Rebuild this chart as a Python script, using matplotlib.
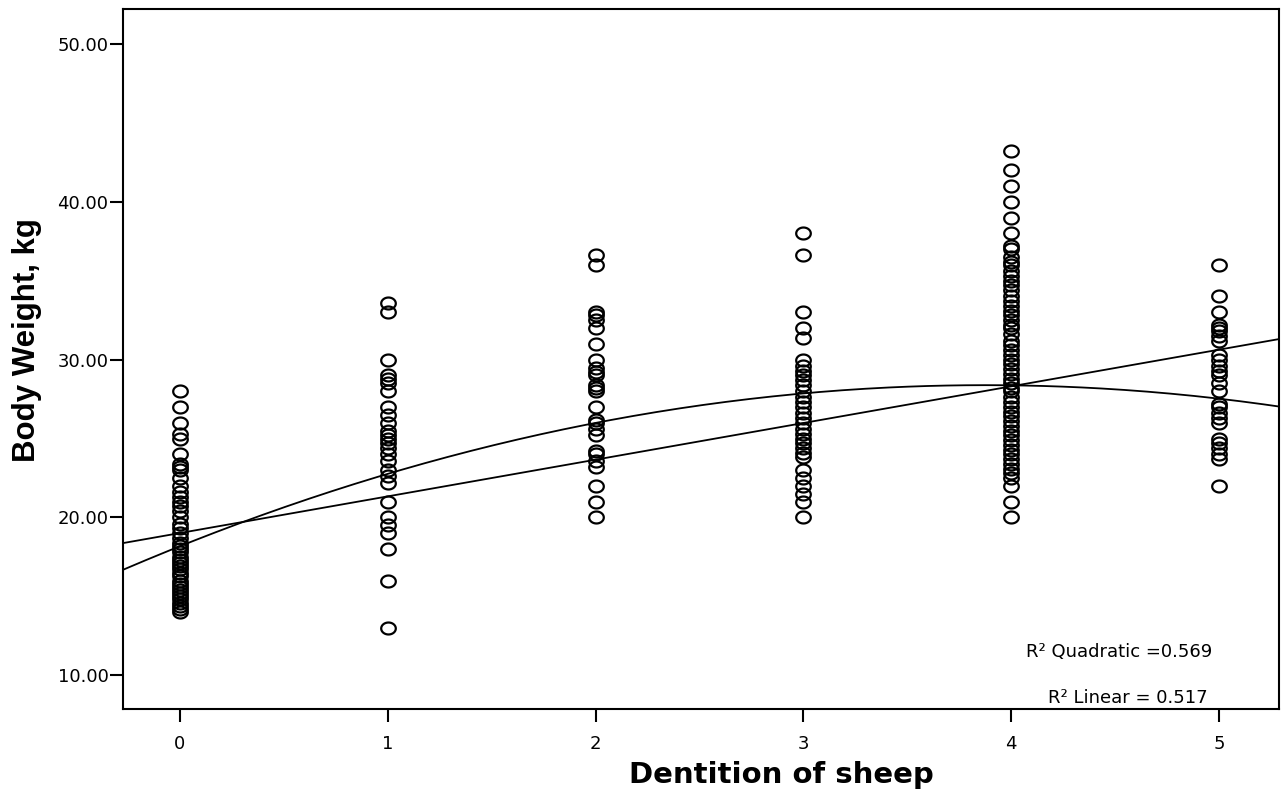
import numpy as np
import matplotlib
matplotlib.use("Agg")
import matplotlib.pyplot as plt
from matplotlib.path import Path

plt.rcParams['font.family'] = ['DejaVu Sans']

# Data
dentition = [0, 1, 2, 3, 4, 5]
weights_0 = [28.0, 27.0, 26.0, 25.3, 25.0, 24.0, 23.4, 23.2, 23.0, 22.5, 22.0, 21.6, 21.3, 21.0,
             20.7, 20.4, 20.0, 19.6, 19.3, 19.0, 18.7, 18.4, 18.2, 18.0, 17.8, 17.5, 17.3, 17.1,
             16.9, 16.7, 16.5, 16.3, 16.0, 15.8, 15.6, 15.4, 15.2, 15.0, 14.8, 14.6, 14.4, 14.2, 14.0]
weights_1 = [33.6, 33.0, 30.0, 29.0, 28.8, 28.5, 28.0, 27.0, 26.5, 26.0, 25.5, 25.2, 25.0, 24.7,
             24.4, 24.0, 23.6, 23.0, 22.6, 22.2, 21.0, 20.0, 19.5, 19.0, 18.0, 16.0, 13.0]
weights_2 = [36.6, 36.0, 33.0, 32.8, 32.5, 32.0, 31.0, 30.0, 29.5, 29.2, 29.0, 28.4, 28.2, 28.0,
             27.0, 26.2, 26.0, 25.6, 25.2, 24.2, 24.0, 23.6, 23.2, 22.0, 21.0, 20.0]
weights_3 = [38.0, 36.6, 33.0, 32.0, 31.4, 30.0, 29.6, 29.3, 29.0, 28.7, 28.4, 28.0, 27.6, 27.3,
             27.0, 26.6, 26.3, 26.0, 25.6, 25.3, 25.0, 24.7, 24.4, 24.1, 23.8, 23.0, 22.5, 22.0,
             21.5, 21.0, 20.0]
weights_4 = [43.2, 42.0, 41.0, 40.0, 39.0, 38.0, 37.2, 37.0, 36.5, 36.2, 36.0, 35.6, 35.3, 35.0,
             34.7, 34.4, 34.0, 33.7, 33.4, 33.1, 32.8, 32.5, 32.2, 32.0, 31.6, 31.2, 30.9, 30.6,
             30.3, 30.0, 29.7, 29.4, 29.1, 28.8, 28.5, 28.2, 28.0, 27.6, 27.3, 27.0, 26.7, 26.4,
             26.1, 25.8, 25.5, 25.2, 24.9, 24.6, 24.3, 24.0, 23.7, 23.4, 23.1, 22.8, 22.5, 22.0,
             21.0, 20.0]
weights_5 = [36.0, 34.0, 33.0, 32.2, 32.0, 31.8, 31.5, 31.2, 30.3, 30.0, 29.6, 29.3, 29.0, 28.5,
             28.0, 27.2, 27.0, 26.6, 26.3, 26.0, 25.0, 24.7, 24.4, 24.0, 23.7, 22.0]
all_weights = [weights_0, weights_1, weights_2, weights_3, weights_4, weights_5]

# Fit coefficients
linear_coef = [19.01, 2.324]              # intercept, slope
quad_coef = [18.175, 5.265, -0.679]       # c, b, a
r2_quadratic = "0.569"
r2_linear = "0.517"

yticks = [10, 20, 30, 40, 50]

W, H = 1281, 791
fig = plt.figure(figsize=(W / 100, H / 100), dpi=100)
ax = fig.add_axes([123 / W, 1 - 709 / H, (1279 - 123) / W, (709 - 8.5) / H])

# slightly flattened open-circle marker
t = np.linspace(0, 2 * np.pi, 60)
ell = Path(np.column_stack([np.cos(t), 0.82 * np.sin(t)]), closed=True)

for d, ws in zip(dentition, all_weights):
    ax.plot([d] * len(ws), ws, linestyle='none', marker=ell, markersize=10.5,
            markerfacecolor='none', markeredgecolor='black', markeredgewidth=1.6)

xlim = (-0.274, 5.289)
xs = np.linspace(xlim[0], xlim[1], 300)
ax.plot(xs, linear_coef[0] + linear_coef[1] * xs, color='black', lw=1.3)
ax.plot(xs, quad_coef[0] + quad_coef[1] * xs + quad_coef[2] * xs ** 2, color='black', lw=1.3)

ax.set_xlim(*xlim)
ax.set_ylim(7.86, 52.25)
ax.set_xticks(dentition)
ax.set_xticklabels([str(d) for d in dentition])
ax.set_yticks(yticks)
ax.set_yticklabels([f"{v:.2f}" for v in yticks])
ax.tick_params(axis='both', direction='out', length=9.5, width=1.5, labelsize=13, colors='black')
ax.tick_params(axis='y', pad=1)
ax.tick_params(axis='x', pad=9)
for s in ax.spines.values():
    s.set_linewidth(1.5)

fig.text(1212 / W, 1 - 652 / H, "R² Quadratic =" + r2_quadratic, ha='right', va='center',
         fontsize=13)
fig.text(1208 / W, 1 - 698 / H, "R² Linear = " + r2_linear, ha='right', va='center',
         fontsize=13)

fig.text(781 / W, 1 - 775 / H, "Dentition of sheep", ha='center', va='center',
         fontsize=21, fontweight='bold')
fig.text(27 / W, 1 - 340 / H, "Body Weight, kg", ha='center', va='center', rotation=90,
         fontsize=22.5, fontweight='bold', family=['Liberation Sans', 'DejaVu Sans'])

fig.savefig("out.png", dpi=100)
